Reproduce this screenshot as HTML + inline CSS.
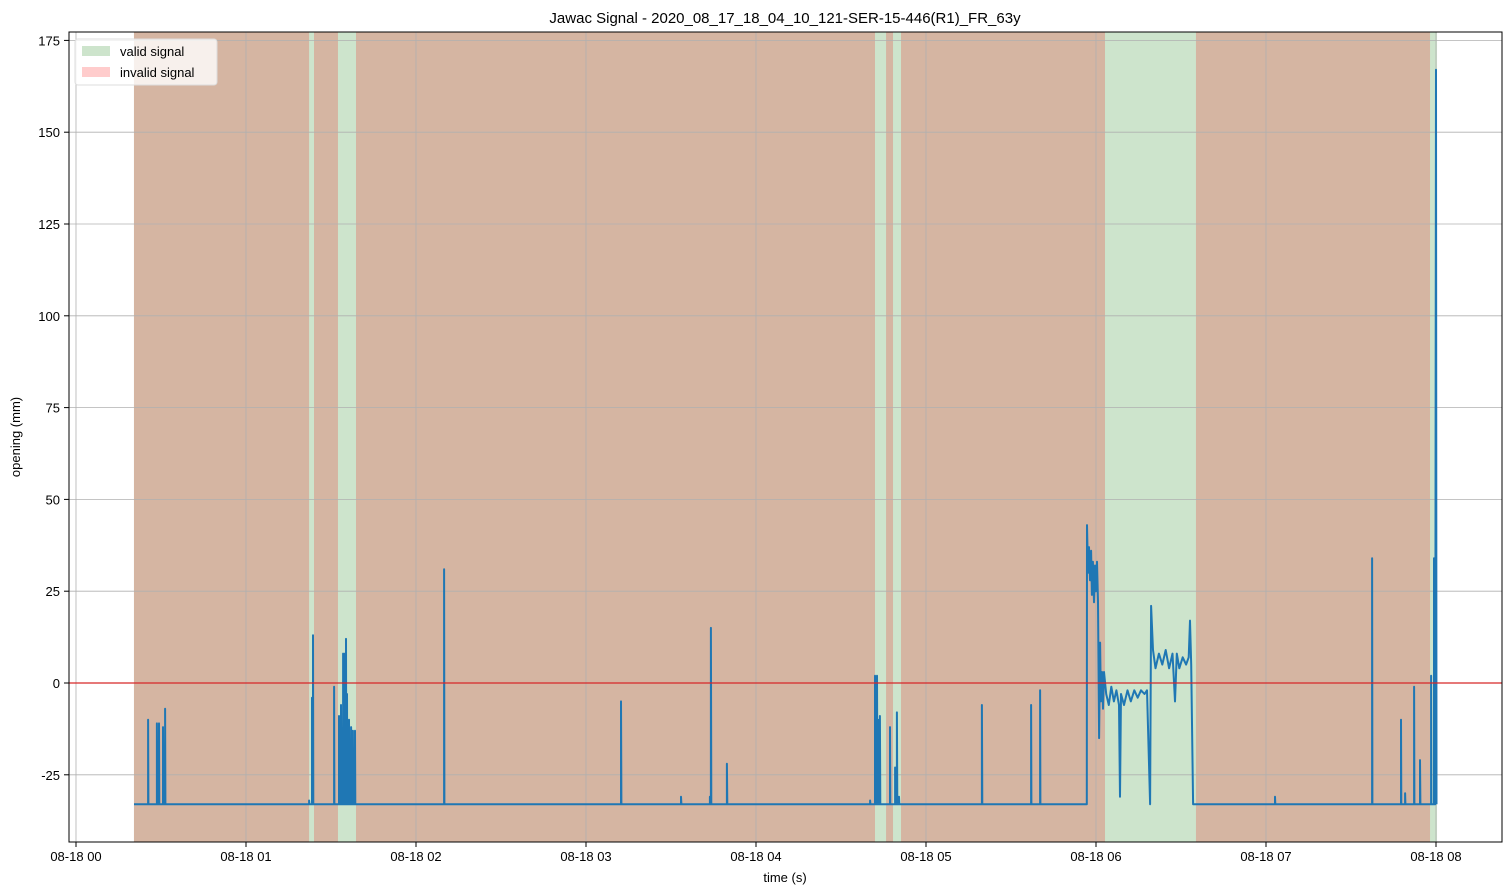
<!DOCTYPE html>
<html><head><meta charset="utf-8"><style>
body{margin:0;background:#fff;}
svg{display:block;font-family:"Liberation Sans","DejaVu Sans",sans-serif;}
</style></head><body>
<svg id="chart" width="1512" height="894" viewBox="0 0 1512 894" xmlns="http://www.w3.org/2000/svg">
<rect width="1512" height="894" fill="#fff"/>
<text x="785" y="23" font-size="15" text-anchor="middle" fill="#000">Jawac Signal - 2020_08_17_18_04_10_121-SER-15-446(R1)_FR_63y</text>
<g id="bg"></g><g id="grid"></g><g id="series"></g><g id="axes"></g>
<text x="785" y="882" font-size="13" text-anchor="middle">time (s)</text>
<text transform="translate(20,437) rotate(-90)" font-size="13" text-anchor="middle">opening (mm)</text>
<g>
<rect x="75" y="39" width="142" height="46" rx="3" fill="#fff" fill-opacity="0.8" stroke="#ddd"/>
<rect x="82" y="46" width="28" height="10" fill="#cde4cc"/>
<text x="120" y="56" font-size="13">valid signal</text>
<rect x="82" y="67" width="28" height="10" fill="#ffcccc"/>
<text x="120" y="77" font-size="13">invalid signal</text>
</g>
</svg>
<script>
const xTickLabels=["08-18 00","08-18 01","08-18 02","08-18 03","08-18 04","08-18 05","08-18 06","08-18 07","08-18 08"];
const yTickValues=[-25,0,25,50,75,100,125,150,175];
const validStart=[0.341];
const validEnd=[8.006];
const invalidStart=[0.341,1.400,1.647,4.765,4.853,6.588];
const invalidEnd=[1.371,1.541,4.700,4.806,6.053,7.965];
const baseline=-33;
const spikeT=[0.424,0.476,0.488,0.512,0.524,1.371,1.388,1.394,1.518,1.547,1.559,1.571,1.582,1.588,1.594,1.606,1.618,1.629,1.641,2.165,3.206,3.559,3.729,3.735,3.829,4.671,4.700,4.706,4.712,4.718,4.729,4.788,4.818,4.829,4.841,5.329,5.618,5.671,6.582,7.053,7.624,7.794,7.818,7.871,7.906,7.971,7.988];
const spikeV=[-10,-11,-11,-12,-7,-32,-4,13,-1,-9,-6,8,8,12,-3,-10,-12,-13,-13,31,-5,-31,-31,15,-22,-32,2,-2,2,-10,-9,-12,-23,-8,-31,-6,-6,-2,-33,-31,34,-10,-30,-1,-21,2,34];
const segT=[5.946,5.947,5.953,5.959,5.965,5.971,5.976,5.982,5.988,5.994,6.000,6.006,6.012,6.018,6.024,6.029,6.035,6.041,6.047,6.060,6.075,6.090,6.105,6.120,6.135,6.141,6.147,6.165,6.185,6.205,6.225,6.245,6.265,6.285,6.300,6.318,6.324,6.335,6.350,6.370,6.390,6.410,6.430,6.450,6.465,6.475,6.490,6.510,6.530,6.545,6.553,6.560,6.571];
const segV=[-33,43,30,37,28,36,24,33,22,32,25,33,22,-15,11,-5,3,-7,3,-3,-6,-1,-5,-2,-6,-31,-3,-6,-2,-5,-2,-4,-2,-3,-2,-33,21,9,4,8,5,9,4,8,-5,8,4,7,5,7,17,5,-33];
const endT=[7.995,8.000,8.003];
const endV=[-33,167,-33];

const NS="http://www.w3.org/2000/svg";
const X0=69,X1=1502,Y0=32,Y1=842;
const xs=h=>76+h*170;
const ys=v=>683-v*3.672;
function mk(tag,attrs,parent){const e=document.createElementNS(NS,tag);for(const k in attrs)e.setAttribute(k,attrs[k]);parent.appendChild(e);return e;}
const bg=document.getElementById('bg'),grid=document.getElementById('grid'),ser=document.getElementById('series'),ax=document.getElementById('axes');
validStart.forEach((s,i)=>{const r=mk('rect',{x:xs(s),y:Y0,width:xs(validEnd[i])-xs(s),height:Y1-Y0,fill:'#cde4cc'},bg);

});
invalidStart.forEach((s,i)=>{const r=mk('rect',{x:xs(s),y:Y0,width:xs(invalidEnd[i])-xs(s),height:Y1-Y0,fill:'#d5b5a2'},bg);

});
xTickLabels.forEach((l,i)=>{const x=xs(i);
const g=mk('line',{x1:x,x2:x,y1:Y0,y2:Y1,stroke:'#b0b0b0','stroke-width':0.8},grid);


mk('line',{x1:x,x2:x,y1:Y1,y2:Y1+5,stroke:'#000'},ax);
const t=mk('text',{x:x,y:Y1+19,'font-size':13,'text-anchor':'middle'},ax);t.textContent=l;

});
yTickValues.forEach(v=>{const y=ys(v);
const g=mk('line',{x1:X0,x2:X1,y1:y,y2:y,stroke:'#b0b0b0','stroke-width':0.8},grid);


mk('line',{x1:X0-5,x2:X0,y1:y,y2:y,stroke:'#000'},ax);
const t=mk('text',{x:X0-9,y:y+5,'font-size':13,'text-anchor':'end'},ax);t.textContent=v;

});
let pts=[[validStart[0],baseline]];
let segDone=false;
spikeT.forEach((t,i)=>{if(!segDone&&t>segT[0]){segT.forEach((s,j)=>pts.push([s,segV[j]]));segDone=true;}
pts.push([t,baseline]);pts.push([t,spikeV[i]]);pts.push([t+0.002,baseline]);});
endT.forEach((t,i)=>pts.push([t,endV[i]]));
const d=pts.map((p,i)=>(i?'L':'M')+xs(p[0]).toFixed(1)+','+ys(p[1]).toFixed(1)).join('');
const line=mk('path',{d:d,fill:'none',stroke:'#1f77b4','stroke-width':2,'stroke-linejoin':'round'},ser);


const z=mk('line',{x1:X0,x2:X1,y1:ys(0),y2:ys(0),stroke:'#d62728','stroke-width':1.2},ser);


const fr=mk('rect',{x:X0,y:Y0,width:X1-X0,height:Y1-Y0,fill:'none',stroke:'#000','stroke-width':1},ax);


</script>
</body></html>
